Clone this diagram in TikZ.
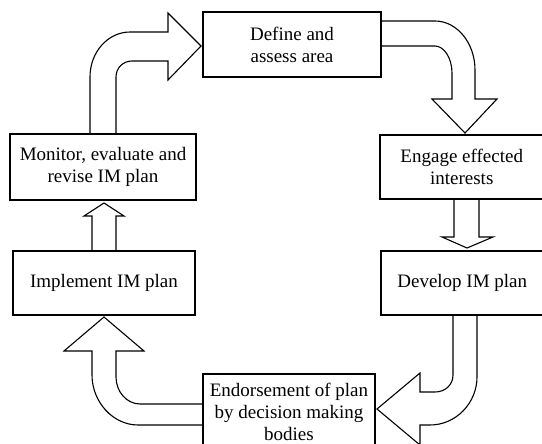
\documentclass[tikz,border=0pt]{standalone}
\usepackage{fontspec}
\setmainfont{Liberation Serif}
\begin{document}
\begin{tikzpicture}[x=1pt,y=-1pt,
  box/.style={draw, line width=1.4pt, fill=white, align=center, inner sep=0pt,
    font=\fontsize{19}{22}\selectfont},
  blockarrow/.style={draw, line width=1.1pt, fill=white, line join=miter}]
\useasboundingbox (0,0) rectangle (542,444);
% block arrows
% Monitor -> Define
\path[blockarrow] (90,134) -- (90,77) .. controls (90,52) and (108,32) .. (130,32) -- (168,32) -- (168,13) -- (201,46) -- (168,80) -- (168,61) -- (132,61) .. controls (123,61) and (116,68) .. (116,77) -- (116,134);
% Define -> Engage
\path[blockarrow] (381,21) -- (435,21) .. controls (457,21) and (475,43) .. (475,70) -- (475,99) -- (497,99) -- (465,133) -- (432,99) -- (452,99) -- (452,73) .. controls (452,58) and (444,46) .. (435,46) -- (381,46);
% Engage -> Develop
\path[blockarrow] (454,199) -- (454,237) -- (442,237) -- (467,248) -- (493,237) -- (479,237) -- (479,199);
% Develop -> Endorsement
\path[blockarrow] (453,315) -- (453,375) .. controls (453,385) and (445,392) .. (435,392) -- (420,392) -- (420,373) -- (377,409) -- (420,445) -- (420,425) -- (430,425) .. controls (456,425) and (477,403) .. (477,377) -- (477,315);
% Endorsement -> Implement
\path[blockarrow] (203,404) -- (140,404) .. controls (127,404) and (116,392) .. (116,377) -- (116,351) -- (144,351) -- (104,317) -- (64,351) -- (92,351) -- (92,375) .. controls (92,402) and (113,425) .. (138,425) -- (203,425);
% Implement -> Monitor
\path[blockarrow] (92,251) -- (92,216) -- (84,216) -- (104,203) -- (124,216) -- (116,216) -- (116,251);
% boxes
\node[box, minimum width=178pt, minimum height=65pt] (define) at (292,44.5) {Define and\\assess area};
\node[box, minimum width=163.5pt, minimum height=64pt] (engage) at (461.75,167) {Engage effected\\interests};
\node[box, minimum width=162.5pt, minimum height=64pt] (develop) at (462.25,283) {Develop IM plan};
\node[box, minimum width=172pt, minimum height=76pt] (endorse) at (289,412) {Endorsement of plan\\by decision making\\bodies};
\node[box, minimum width=182pt, minimum height=64pt] (implement) at (104,283) {Implement IM plan};
\node[box, minimum width=186pt, minimum height=66pt] (monitor) at (103,167) {Monitor, evaluate and\\revise IM plan};
\end{tikzpicture}
\end{document}
